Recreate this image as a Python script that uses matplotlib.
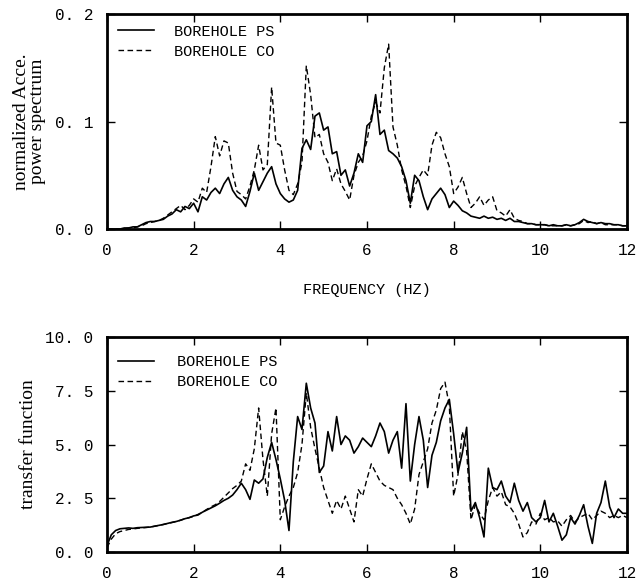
import numpy as np
import matplotlib
matplotlib.use('Agg')
import matplotlib.pyplot as plt

# frekuensi (Hz), langkah 0.1
freq = np.round(np.arange(0, 121) * 0.1, 1)

# spektrum daya percepatan ternormalisasi
ps_spec = [0.000, 0.000, 0.000, 0.000, 0.001, 0.001, 0.002, 0.002, 0.004, 0.006,
           0.007, 0.007, 0.008, 0.009, 0.012, 0.014, 0.018, 0.016, 0.021, 0.019,
           0.024, 0.016, 0.030, 0.027, 0.034, 0.038, 0.033, 0.042, 0.048, 0.036,
           0.030, 0.027, 0.021, 0.035, 0.052, 0.036, 0.044, 0.052, 0.058, 0.042,
           0.033, 0.028, 0.025, 0.027, 0.036, 0.075, 0.083, 0.074, 0.105, 0.108,
           0.092, 0.095, 0.070, 0.072, 0.050, 0.055, 0.040, 0.052, 0.070, 0.062,
           0.096, 0.100, 0.125, 0.088, 0.092, 0.073, 0.070, 0.066, 0.058, 0.045,
           0.024, 0.050, 0.045, 0.030, 0.018, 0.028, 0.033, 0.038, 0.032, 0.020,
           0.026, 0.022, 0.017, 0.015, 0.012, 0.011, 0.010, 0.012, 0.010, 0.011,
           0.009, 0.010, 0.008, 0.010, 0.007, 0.007, 0.006, 0.005, 0.005, 0.004,
           0.004, 0.004, 0.003, 0.004, 0.003, 0.003, 0.004, 0.003, 0.004, 0.006,
           0.009, 0.007, 0.006, 0.005, 0.006, 0.005, 0.005, 0.004, 0.004, 0.003,
           0.003]
co_spec = [0.000, 0.000, 0.000, 0.000, 0.000, 0.001, 0.001, 0.002, 0.003, 0.005,
           0.006, 0.007, 0.008, 0.010, 0.013, 0.016, 0.019, 0.022, 0.018, 0.022,
           0.028, 0.025, 0.038, 0.034, 0.058, 0.086, 0.068, 0.082, 0.080, 0.052,
           0.035, 0.032, 0.028, 0.040, 0.055, 0.078, 0.055, 0.060, 0.132, 0.080,
           0.078, 0.055, 0.036, 0.032, 0.042, 0.062, 0.152, 0.125, 0.085, 0.088,
           0.070, 0.062, 0.045, 0.056, 0.042, 0.035, 0.027, 0.050, 0.062, 0.068,
           0.082, 0.105, 0.118, 0.108, 0.150, 0.172, 0.095, 0.078, 0.055, 0.040,
           0.020, 0.040, 0.048, 0.055, 0.050, 0.078, 0.090, 0.085, 0.070, 0.058,
           0.033, 0.039, 0.048, 0.033, 0.020, 0.024, 0.030, 0.022, 0.027, 0.030,
           0.017, 0.015, 0.012, 0.018, 0.010, 0.008, 0.007, 0.005, 0.005, 0.004,
           0.004, 0.004, 0.003, 0.003, 0.003, 0.003, 0.004, 0.003, 0.004, 0.005,
           0.008, 0.006, 0.007, 0.005, 0.006, 0.004, 0.004, 0.004, 0.004, 0.003,
           0.003]

# fungsi transfer
ps_tf = [0.30, 0.80, 1.00, 1.08, 1.10, 1.12, 1.10, 1.13, 1.14, 1.15,
         1.16, 1.20, 1.24, 1.28, 1.33, 1.38, 1.42, 1.48, 1.55, 1.60,
         1.68, 1.72, 1.85, 1.95, 2.05, 2.15, 2.27, 2.40, 2.50, 2.65,
         2.90, 3.20, 2.90, 2.45, 3.35, 3.20, 3.40, 4.40, 5.10, 4.30,
         3.40, 2.40, 1.00, 4.20, 6.30, 5.70, 7.85, 6.70, 6.00, 3.70,
         4.00, 5.60, 4.70, 6.30, 5.00, 5.40, 5.20, 4.60, 4.90, 5.30,
         5.10, 4.90, 5.40, 6.00, 5.60, 4.60, 5.20, 5.60, 3.90, 6.90,
         3.30, 5.00, 6.30, 5.20, 3.00, 4.50, 5.10, 6.10, 6.70, 7.10,
         5.50, 3.70, 4.60, 5.80, 1.90, 2.30, 1.60, 0.70, 3.90, 3.00,
         2.90, 3.30, 2.60, 2.30, 3.20, 2.40, 1.90, 2.30, 1.60, 1.40,
         1.60, 2.40, 1.40, 1.80, 1.20, 0.55, 0.80, 1.60, 1.30, 1.70,
         2.20, 1.20, 0.40, 1.80, 2.30, 3.30, 2.10, 1.60, 2.00, 1.80,
         1.80]
co_tf = [0.20, 0.60, 0.85, 0.95, 1.00, 1.05, 1.07, 1.10, 1.12, 1.14,
         1.16, 1.20, 1.24, 1.28, 1.33, 1.37, 1.42, 1.48, 1.55, 1.60,
         1.66, 1.75, 1.85, 1.98, 2.10, 2.20, 2.35, 2.55, 2.75, 2.95,
         3.10, 3.30, 4.10, 3.80, 4.80, 6.70, 4.30, 2.60, 5.50, 6.70,
         1.50, 2.10, 2.60, 3.00, 3.70, 5.00, 7.40, 5.80, 4.80, 3.90,
         3.00, 2.40, 1.80, 2.40, 2.00, 2.60, 2.00, 1.40, 2.90, 2.60,
         3.40, 4.10, 3.70, 3.30, 3.10, 3.00, 2.90, 2.50, 2.20, 1.80,
         1.30, 2.00, 3.60, 4.20, 4.80, 6.00, 6.60, 7.60, 7.90, 6.80,
         2.60, 3.60, 5.60, 4.70, 1.50, 2.20, 1.80, 1.50, 2.40, 3.00,
         2.60, 2.80, 2.20, 2.10, 1.80, 1.30, 0.70, 0.90, 1.40, 1.30,
         1.80, 1.50, 1.60, 1.40, 1.45, 1.20, 1.50, 1.70, 1.40, 1.60,
         1.70, 1.80, 1.50, 1.70, 1.90, 1.80, 1.60, 1.70, 1.60, 1.70,
         1.60]

xticks = [0, 2, 4, 6, 8, 10, 12]
spec_ticks = [0.0, 0.1, 0.2]
spec_labels = ['0. 0', '0. 1', '0. 2']
tf_ticks = [0.0, 2.5, 5.0, 7.5, 10.0]
tf_labels = ['0. 0', '2. 5', '5. 0', '7. 5', '10. 0']

mono = 'Liberation Mono'
serif = 'Liberation Serif'

fig = plt.figure(figsize=(6.39, 5.85), dpi=100)
ax1 = fig.add_axes([0.1674, 0.6085, 0.8138, 0.3675])
ax2 = fig.add_axes([0.1674, 0.0564, 0.8138, 0.3675])

ax1.plot(freq, ps_spec, color='black', lw=1.2, label='BOREHOLE PS')
ax1.plot(freq, co_spec, color='black', lw=1.0, ls=(0, (4, 2.5)), label='BOREHOLE CO')
ax2.plot(freq, ps_tf, color='black', lw=1.2, label='BOREHOLE PS')
ax2.plot(freq, co_tf, color='black', lw=1.0, ls=(0, (4, 2.5)), label='BOREHOLE CO')

for ax, yt, yl, ymax in [(ax1, spec_ticks, spec_labels, 0.2), (ax2, tf_ticks, tf_labels, 10.0)]:
    ax.set_xlim(0, 12)
    ax.set_ylim(0, ymax)
    ax.set_xticks(xticks)
    ax.set_xticklabels([str(t) for t in xticks], family=mono, fontsize=11.5)
    ax.set_yticks(yt)
    ax.set_yticklabels(yl, family=mono, fontsize=11.5)
    ax.tick_params(direction='in', length=6, width=1, top=True, right=True, pad=10)
    for s in ax.spines.values():
        s.set_linewidth(2)

ax1.legend(loc='upper left', frameon=False, prop={'family': mono, 'size': 11},
           handlelength=2.4, handletextpad=1.3, borderaxespad=0.3, labelspacing=0.4)
ax2.legend(loc='upper left', bbox_to_anchor=(0, 0.965), frameon=False,
           prop={'family': mono, 'size': 11},
           handlelength=2.4, handletextpad=1.5, borderaxespad=0.3, labelspacing=0.4)

ax1.set_xlabel('FREQUENCY (HZ)', family=mono, fontsize=11, labelpad=18)
ax1.set_ylabel('normalized Acce.\npower spectrum', family=serif, fontsize=14, linespacing=0.9)
ax2.set_ylabel('transfer function', family=serif, fontsize=14)
ax1.yaxis.set_label_coords(-0.118, 0.5)
ax2.yaxis.set_label_coords(-0.135, 0.5)

plt.savefig('out.png', dpi=100)
